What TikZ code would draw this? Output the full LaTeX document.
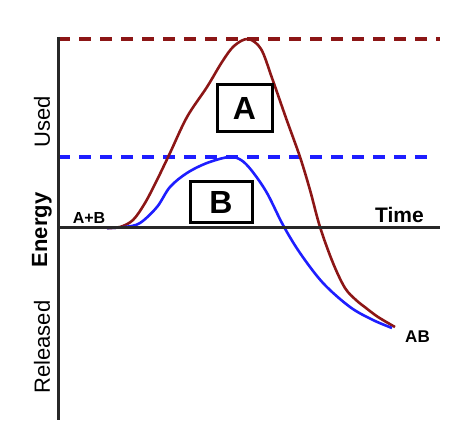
\documentclass[tikz,border=0pt]{standalone}
\usepackage{fontspec}
\setmainfont{Liberation Sans}
\definecolor{curvered}{RGB}{140,22,22}
\definecolor{curveblue}{RGB}{30,30,255}
\definecolor{axisgray}{RGB}{40,40,40}
\begin{document}
\begin{tikzpicture}[x=1pt,y=-1pt,
  axisline/.style={draw=axisgray,line width=3pt},
  levelline/.style={line width=3.2pt,dash pattern=on 12pt off 9pt},
  curve/.style={line width=2.6pt,smooth,tension=0.55},
  lettbox/.style={draw=black,line width=3pt,fill=white,inner sep=0pt,font=\bfseries\fontsize{32}{32}\selectfont},
  axlabel/.style={rotate=90,font=\fontsize{22}{22}\selectfont,inner sep=0pt},
  small/.style={font=\bfseries\fontsize{17}{17}\selectfont,inner sep=0pt}]
\useasboundingbox (0,0) rectangle (474,430);
\coordinate (top) at (58,37);
\coordinate (bot) at (58,420);
\coordinate (orig) at (58,228);
\coordinate (xend) at (440,228);
\coordinate (redL) at (58,39);
\coordinate (redR) at (440,39);
\coordinate (blueL) at (58,157);
\coordinate (blueR) at (430,157);
\draw[levelline,curvered] (redL) -- (redR);
\draw[levelline,curveblue] (blueL) -- (blueR);
\draw[curve,curvered] plot coordinates {(107,228) (120,227) (133,220) (145,203) (157,180) (170,153) (187,117) (207,87) (222,62) (234,46) (248,39) (261,49) (272,78) (286,118) (300,157) (310,190) (320,227) (333,263) (345,288) (356,300) (366,308) (378,317) (395,327)};
\draw[curve,curveblue] plot coordinates {(107,228) (125,227) (140,223) (157,207) (170,187) (187,173) (207,163) (229,157) (241,160) (252,171) (267,193) (283,225) (300,253) (323,283) (350,307) (373,320) (392,328)};
\draw[axisline] (top) -- (bot);
\draw[axisline] (orig) -- (xend);
\node[lettbox,minimum width=55pt,minimum height=47pt] (A) at (244.5,108.5) {A};
\node[lettbox,minimum width=62pt,minimum height=41pt] (B) at (221,202.5) {B};
\node[axlabel] (used) at (42,122) {Used};
\node[axlabel,font=\bfseries\fontsize{22}{22}\selectfont] (energy) at (42,230) {Energy};
\node[axlabel] (rel) at (42,347) {Released};
\node[small,font=\bfseries\fontsize{16}{16}\selectfont] (ab) at (89,218) {A+B};
\node[small,font=\bfseries\fontsize{21}{21}\selectfont] (time) at (399.5,215) {Time};
\node[small] (prod) at (417.5,337) {AB};
\end{tikzpicture}
\end{document}
